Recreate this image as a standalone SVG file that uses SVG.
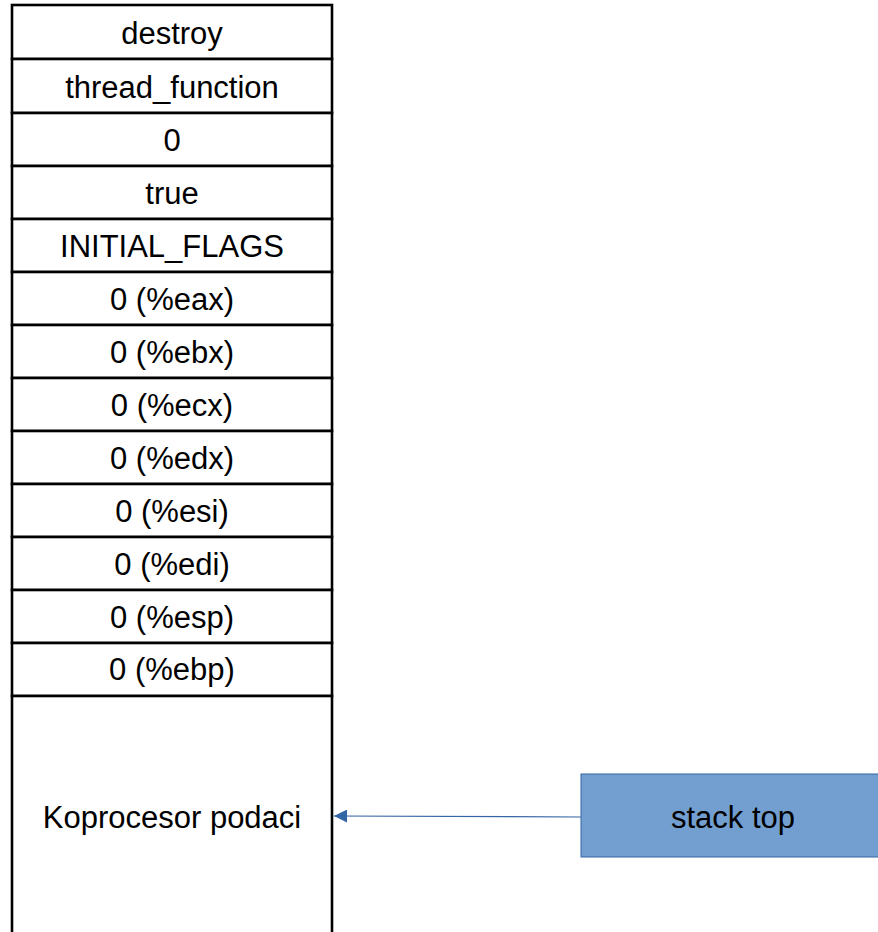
<svg xmlns="http://www.w3.org/2000/svg" width="878" height="932" viewBox="0 0 878 932">
  <style>
    .cell { fill: #ffffff; stroke: #000000; stroke-width: 2.6; }
    .lbl { font-family: "Liberation Sans", Arial, sans-serif; font-size: 31px; fill: #000000; text-anchor: middle; dominant-baseline: central; }
    .ptr { fill: #729fcf; stroke: #3465a4; stroke-width: 1; }
    .edge { fill: none; stroke: #3465a4; stroke-width: 1.2; }
  </style>
  <defs>
    <marker id="arrow" viewBox="0 0 10 10" refX="10" refY="5" markerWidth="13" markerHeight="13" markerUnits="userSpaceOnUse" orient="auto">
      <path d="M0,0 L10,5 L0,10 Z" fill="#3465a4"/>
    </marker>
  </defs>
  <rect width="878" height="932" fill="#ffffff"/>

  <g id="cell-destroy"><rect class="cell" x="12" y="5" width="320" height="54"/><text class="lbl" x="172" y="33">destroy</text></g>
  <g id="cell-thread-function"><rect class="cell" x="12" y="59" width="320" height="54"/><text class="lbl" x="172" y="87">thread_function</text></g>
  <g id="cell-zero"><rect class="cell" x="12" y="113" width="320" height="53"/><text class="lbl" x="172" y="140">0</text></g>
  <g id="cell-true"><rect class="cell" x="12" y="166" width="320" height="53"/><text class="lbl" x="172" y="193">true</text></g>
  <g id="cell-flags"><rect class="cell" x="12" y="219" width="320" height="53"/><text class="lbl" x="172" y="246">INITIAL_FLAGS</text></g>
  <g id="cell-eax"><rect class="cell" x="12" y="272" width="320" height="53"/><text class="lbl" x="172" y="299">0 (%eax)</text></g>
  <g id="cell-ebx"><rect class="cell" x="12" y="325" width="320" height="53"/><text class="lbl" x="172" y="352">0 (%ebx)</text></g>
  <g id="cell-ecx"><rect class="cell" x="12" y="378" width="320" height="53"/><text class="lbl" x="172" y="405">0 (%ecx)</text></g>
  <g id="cell-edx"><rect class="cell" x="12" y="431" width="320" height="53"/><text class="lbl" x="172" y="458">0 (%edx)</text></g>
  <g id="cell-esi"><rect class="cell" x="12" y="484" width="320" height="53"/><text class="lbl" x="172" y="511">0 (%esi)</text></g>
  <g id="cell-edi"><rect class="cell" x="12" y="537" width="320" height="53"/><text class="lbl" x="172" y="564">0 (%edi)</text></g>
  <g id="cell-esp"><rect class="cell" x="12" y="590" width="320" height="53"/><text class="lbl" x="172" y="617">0 (%esp)</text></g>
  <g id="cell-ebp"><rect class="cell" x="12" y="643" width="320" height="53"/><text class="lbl" x="172" y="669">0 (%ebp)</text></g>
  <g id="cell-fpu"><rect class="cell" x="12" y="696" width="320" height="260"/><text class="lbl" x="172" y="817">Koprocesor podaci</text></g>

  <g id="stack-top"><rect class="ptr" x="581" y="774" width="304" height="83"/><text class="lbl" x="733" y="817">stack top</text></g>

  <g id="connectors">
    <path class="edge" d="M581,817 L334,816" marker-end="url(#arrow)"/>
  </g>
</svg>
